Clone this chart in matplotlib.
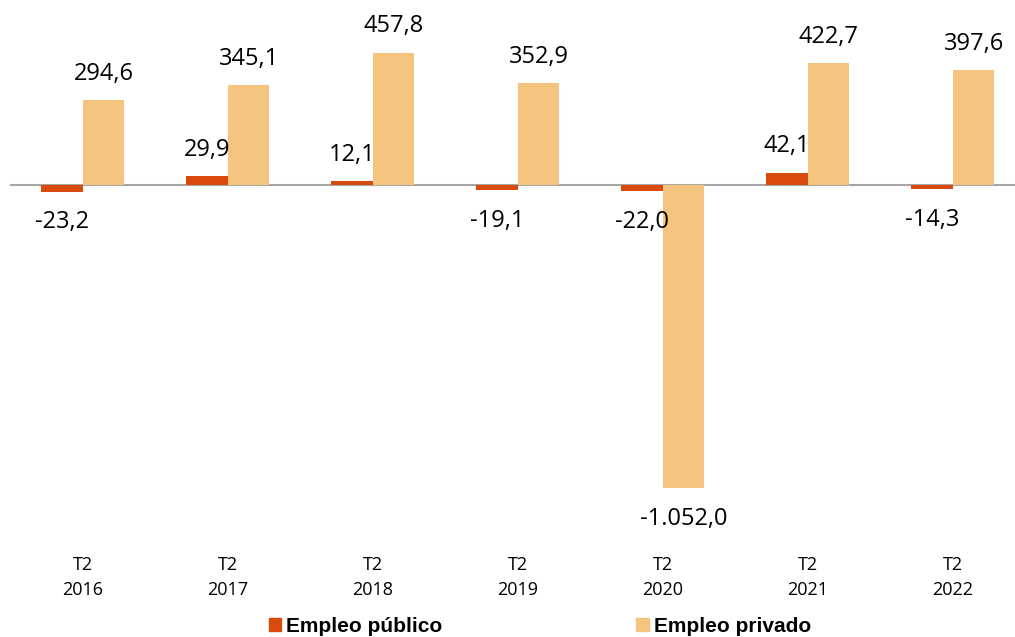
import matplotlib.pyplot as plt
from matplotlib.patches import Patch
import numpy as np

years = ["2016", "2017", "2018", "2019", "2020", "2021", "2022"]
quarter = "T2"
publico = [-23.2, 29.9, 12.1, -19.1, -22.0, 42.1, -14.3]
privado = [294.6, 345.1, 457.8, 352.9, -1052.0, 422.7, 397.6]

c_pub = "#D84B0C"
c_priv = "#F5C47F"


def fmt(v):
    s = f"{abs(v):,.1f}"
    s = s.replace(",", "X").replace(".", ",").replace("X", ".")
    return ("-" if v < 0 else "") + s


def main():
    fig = plt.figure(figsize=(10.15, 6.37), dpi=100)
    W, H = 1015, 637
    ax = fig.add_axes([10 / W, (H - 500) / H, 1005 / W, 500 / H])

    x = np.arange(len(years))
    w = 0.286
    ax.bar(x - w / 2, publico, w, color=c_pub, zorder=2)
    ax.bar(x + w / 2, privado, w, color=c_priv, zorder=2)
    ax.axhline(0, color="#a6a6a6", lw=1.5, zorder=1)

    # data labels
    for xs, vals in ((x - w / 2, publico), (x + w / 2, privado)):
        for xi, v in zip(xs, vals):
            off = 19 if v >= 0 else -22
            ax.annotate(fmt(v), (xi, v), xytext=(0, off), textcoords="offset points",
                        ha="center", va="center", fontsize=17, family="Open Sans")

    ax.set_xlim(-0.503, 6.428)
    ax.set_ylim(-1092, 641)
    ax.set_xticks(x)
    ax.set_xticklabels([f"{quarter}\n{y}" for y in years], family="Open Sans",
                       fontsize=13, linespacing=1.5)
    ax.tick_params(axis="x", length=0, pad=40)
    ax.set_yticks([])
    for sp in ax.spines.values():
        sp.set_visible(False)

    # legend
    handles = [Patch(color=c_pub, label="Empleo público"),
               Patch(color=c_priv, label="Empleo privado")]
    fig.legend(handles=handles, loc="center", bbox_to_anchor=(540 / W, 1 - 626 / H),
               ncol=2, frameon=False, handlelength=0.6, handleheight=0.6,
               handletextpad=0.25, columnspacing=9.3,
               prop={"family": "Liberation Sans", "weight": "bold", "size": 15})

    plt.savefig("out.png")


if __name__ == "__main__":
    main()
